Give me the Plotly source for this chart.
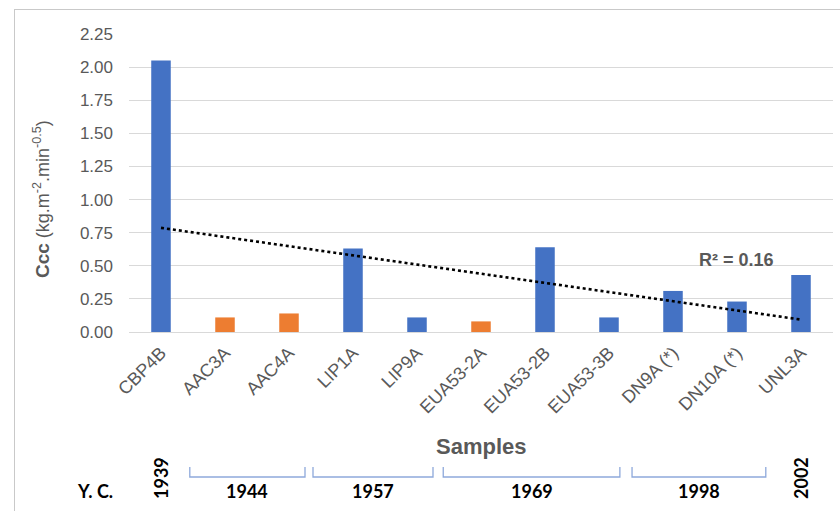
import numpy as np
import plotly.graph_objects as go

samples = ["CBP4B", "AAC3A", "AAC4A", "LIP1A", "LIP9A", "EUA53-2A",
           "EUA53-2B", "EUA53-3B", "DN9A (*)", "DN10A (*)", "UNL3A"]
ccc = [2.05, 0.11, 0.14, 0.63, 0.11, 0.08, 0.64, 0.11, 0.31, 0.23, 0.43]
kind = ["b", "o", "o", "b", "b", "o", "b", "b", "b", "b", "b"]
r2_label = "R² = 0.16"
single_years = [("1939", 0), ("2002", 10)]
group_years = [("1944", 0.45, 2.25), ("1957", 2.375, 4.25),
               ("1969", 4.41, 7.17), ("1998", 7.36, 9.45)]

BLUE = "#4472C4"
ORANGE = "#ED7D31"
GREY = "#595959"
colors = [BLUE if k == "b" else ORANGE for k in kind]

W, H = 840, 511
L, R, T, B = 129, 7, 34, 179
PH = H - T - B
PW = W - L - R


def py(ypx):
    return (H - B - ypx) / PH


def px(xpx):
    return (xpx - L) / PW


idx = np.arange(1, len(ccc) + 1)
slope, icpt = np.polyfit(idx, ccc, 1)
trend_y = [slope * idx[0] + icpt, slope * idx[-1] + icpt]

fig = go.Figure()
fig.add_trace(go.Bar(x=samples, y=ccc, marker=dict(color=colors, line=dict(width=0)),
                     showlegend=False))
fig.add_trace(go.Scatter(x=[samples[0], samples[-1]], y=trend_y, mode="lines",
                         line=dict(color="black", width=2.6, dash="dot"),
                         showlegend=False))

font = "Liberation Sans, Arial, sans-serif"
fig.update_layout(
    width=W, height=H,
    margin=dict(l=L, r=R, t=T, b=B),
    paper_bgcolor="white", plot_bgcolor="white",
    bargap=0.695,
    font=dict(family=font, size=17, color=GREY),
    xaxis=dict(type="category", tickangle=-45, showgrid=False, showline=False,
               ticks="", tickfont=dict(size=18, color=GREY), range=[-0.5, 10.5],
               ticklabelstandoff=6),
    yaxis=dict(range=[0, 2.25], dtick=0.25, tickformat=".2f", showgrid=True,
               gridcolor="#D9D9D9", gridwidth=1, zeroline=True, zerolinecolor="#D9D9D9",
               zerolinewidth=1, showline=False, ticks="", ticklabelstandoff=15,
               tickfont=dict(size=17, color=GREY)),
)

C = dict(xanchor="center", yanchor="middle", showarrow=False)
ann = []
ann.append(dict(x=px(42), y=py(199), xref="paper", yref="paper", textangle=-90,
                text="<b style='font-size:19px'>Ccc</b> (kg.m<sup>-2</sup>.min<sup>-0.5</sup>)",
                font=dict(size=18, color=GREY, family=font), **C))
ann.append(dict(x=px(481), y=py(446), xref="paper", yref="paper", text="<b>Samples</b>",
                font=dict(size=22, color=GREY, family=font), **C))
ann.append(dict(x=px(736), y=py(259.5), xref="paper", yref="paper", text="<b>" + r2_label + "</b>",
                font=dict(size=18, color=GREY, family=font), **C))
yc_font = dict(family="Lato, sans-serif", size=18, color="black")
ann.append(dict(x=px(95), y=py(491), xref="paper", yref="paper", text="<b>Y. C.</b>",
                font=yc_font, **C))
for lab, i in single_years:
    ann.append(dict(x=i, y=py(478), xref="x", yref="paper", text="<b>" + lab + "</b>",
                    textangle=-90, font=yc_font, **C))
shapes = []
for lab, x0, x1 in group_years:
    ann.append(dict(x=(x0 + x1) / 2, y=py(491), xref="x", yref="paper", text="<b>" + lab + "</b>",
                    font=yc_font, **C))
    shapes.append(dict(type="path", xref="x", yref="paper",
                       path=f"M {x0},{py(467)} L {x0},{py(477)} L {x1},{py(477)} L {x1},{py(467)}",
                       line=dict(color="#8EA9DB", width=1.3)))
# frame
shapes.append(dict(type="line", xref="paper", yref="paper", x0=px(14), x1=px(841),
                   y0=py(9.5), y1=py(9.5), line=dict(color="#C9C9C9", width=1)))
shapes.append(dict(type="line", xref="paper", yref="paper", x0=px(14.5), x1=px(14.5),
                   y0=py(9.5), y1=py(512), line=dict(color="#C9C9C9", width=1)))
fig.update_layout(annotations=ann, shapes=shapes)

fig.write_html("out.html")
